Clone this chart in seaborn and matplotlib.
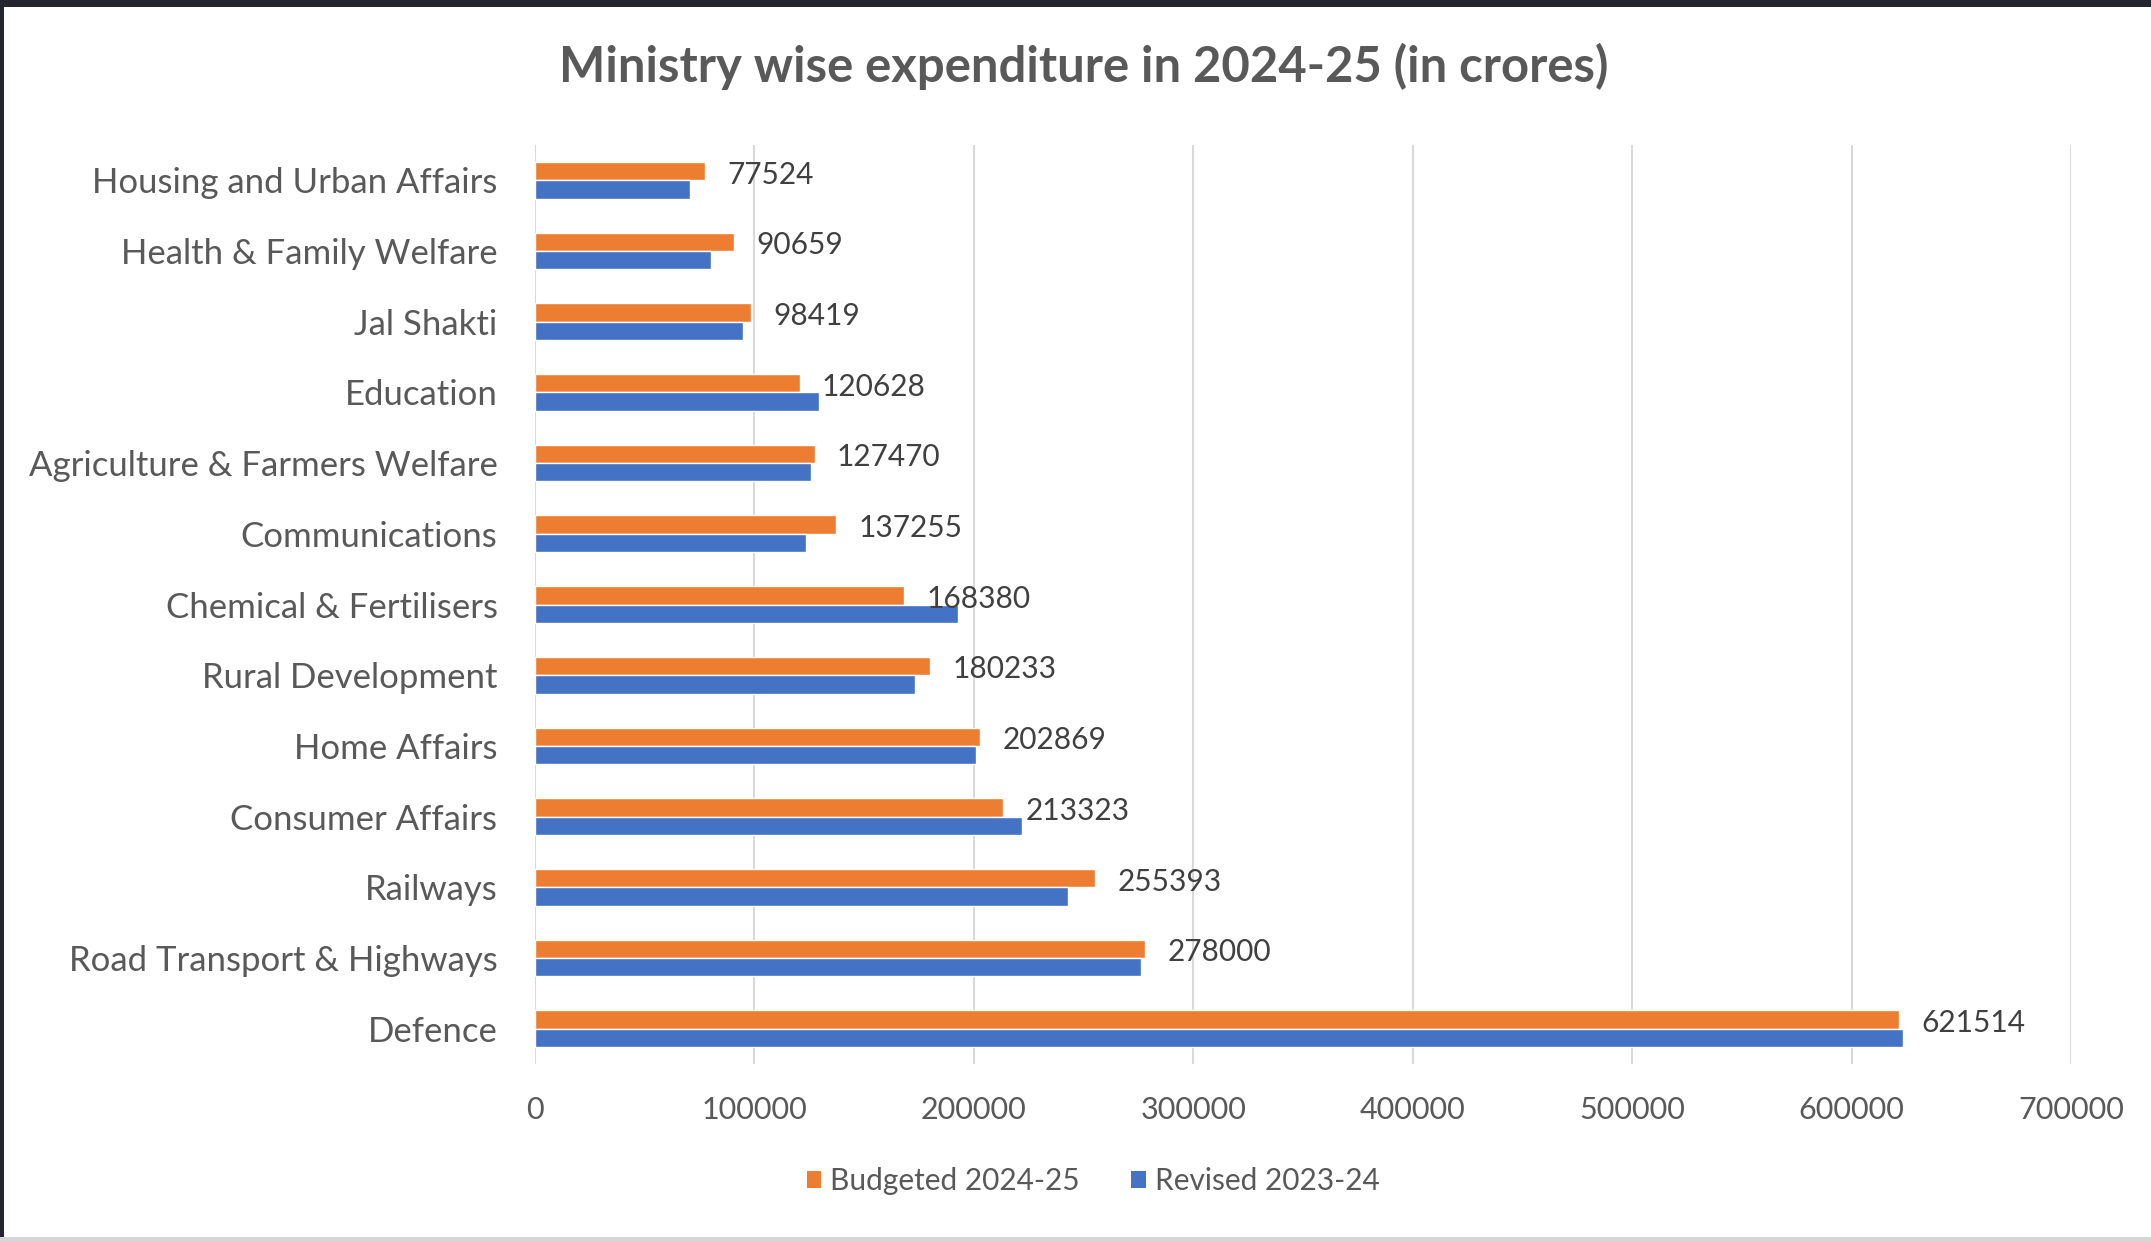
import matplotlib
matplotlib.use("Agg")
import matplotlib.pyplot as plt
from matplotlib.patches import Patch, Rectangle
import seaborn as sns
import pandas as pd

# Ministry-wise spending, in crores
ministries = [
    "Housing and Urban Affairs",
    "Health & Family Welfare",
    "Jal Shakti",
    "Education",
    "Agriculture & Farmers Welfare",
    "Communications",
    "Chemical & Fertilisers",
    "Rural Development",
    "Home Affairs",
    "Consumer Affairs",
    "Railways",
    "Road Transport & Highways",
    "Defence",
]
budgeted_2024_25 = [77524, 90659, 98419, 120628, 127470, 137255, 168380,
                    180233, 202869, 213323, 255393, 278000, 621514]
revised_2023_24 = [70500, 80400, 95000, 129500, 126000, 123500, 192600,
                   173200, 201000, 221900, 243000, 276200, 623500]
series_names = ["Budgeted 2024-25", "Revised 2023-24"]
x_ticks = [0, 100000, 200000, 300000, 400000, 500000, 600000, 700000]
title = "Ministry wise expenditure in 2024-25 (in crores)"

colors = ["#ED7D31", "#4472C4"]
text_grey = "#595959"

df = pd.DataFrame({
    "Ministry": ministries * 2,
    "Value": budgeted_2024_25 + revised_2023_24,
    "Series": [series_names[0]] * len(ministries) + [series_names[1]] * len(ministries),
})

sns.set_theme(style="white")
plt.rcParams["font.family"] = ["Lato", "DejaVu Sans"]

W, H = 2151, 1242
fig = plt.figure(figsize=(W / 100, H / 100), dpi=100)
fig.patch.set_facecolor("white")

ax = fig.add_axes([535 / W, 1 - 1064 / H, (2071 - 535) / W, (1064 - 145) / H])

sns.barplot(
    data=df, y="Ministry", x="Value", hue="Series",
    order=ministries, hue_order=series_names, palette=colors,
    saturation=1, width=0.52, orient="h", legend=False, ax=ax,
)

ax.set_xlim(0, 700000)
ax.set_xticks(x_ticks)
ax.set_xticklabels([str(t) for t in x_ticks])
ax.set_xlabel("")
ax.set_ylabel("")
ax.xaxis.grid(True, color="#d9d9d9", linewidth=1.5)
ax.yaxis.grid(False)
ax.set_axisbelow(True)
for spine in ax.spines.values():
    spine.set_visible(False)
ax.tick_params(axis="x", length=0, pad=23, labelsize=22, labelcolor=text_grey)
ax.tick_params(axis="y", length=0, pad=27, labelsize=25, labelcolor=text_grey)

# value labels on the budgeted bars, nudged slightly below the bar centre
labels = ax.bar_label(ax.containers[0], labels=[str(v) for v in budgeted_2024_25],
                      padding=16, fontsize=21.5, color="#404040")
for lab in labels:
    lab.xyann = (16, -2.5)

fig.text(1084 / W, 1 - 66 / H, title, ha="center", va="center",
         fontsize=35.3, fontweight="bold", color=text_grey)

handles = [Patch(facecolor=c, edgecolor="none") for c in colors]
fig.legend(handles, series_names, loc="center", bbox_to_anchor=(1093 / W, 1 - 1181 / H),
           ncol=2, frameon=False, fontsize=21.5, handlelength=0.5, handleheight=0.5,
           handletextpad=0.3, columnspacing=1.7, labelcolor=text_grey)

# window frame around the chart
fig.patches.append(Rectangle((0, 1 - 7 / H), 1, 7 / H, transform=fig.transFigure,
                             facecolor="#23262f", edgecolor="none", zorder=10))
fig.patches.append(Rectangle((0, 0), 4 / W, 1, transform=fig.transFigure,
                             facecolor="#23262f", edgecolor="none", zorder=10))
fig.patches.append(Rectangle((0, 0), 1, 5 / H, transform=fig.transFigure,
                             facecolor="#d6d6d6", edgecolor="none", zorder=10))

fig.savefig("out.png", dpi=100)
